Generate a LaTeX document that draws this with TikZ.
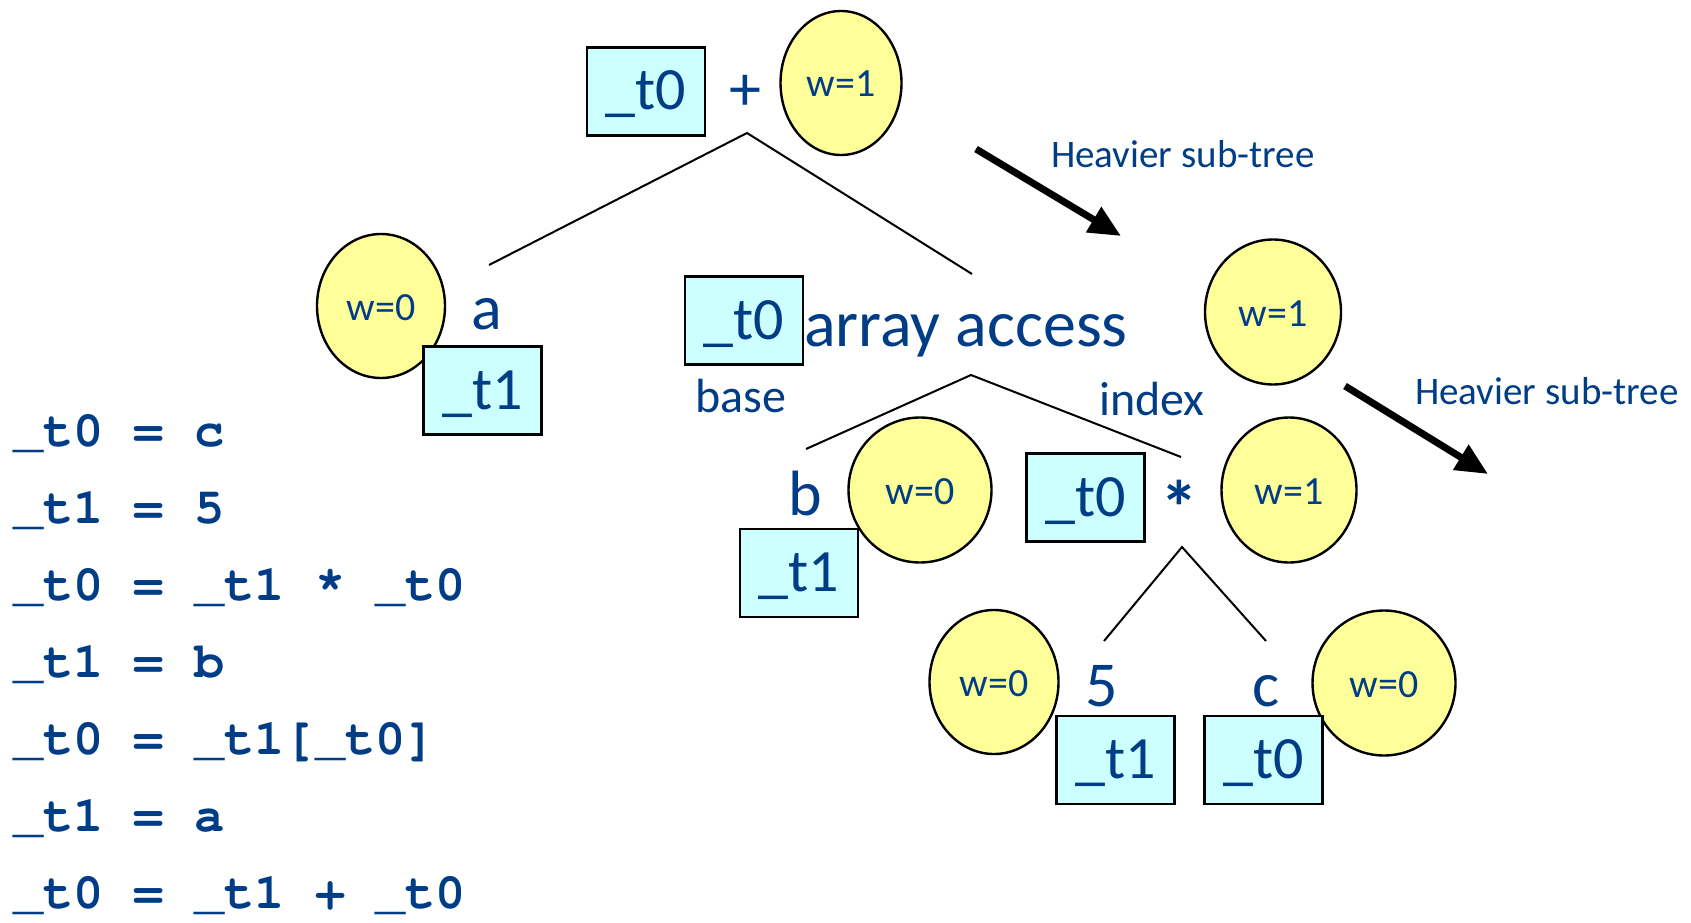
\documentclass[tikz,border=0pt]{standalone}
\usepackage{fontspec}
\setmainfont{Carlito}
\setmonofont{texgyrecursor-regular.otf}[BoldFont=texgyrecursor-bold.otf]
\usetikzlibrary{arrows.meta,shapes.geometric}
\definecolor{txt}{RGB}{0,61,134}
\definecolor{boxfill}{RGB}{204,255,255}
\definecolor{ellfill}{RGB}{255,255,153}
\begin{document}
\begin{tikzpicture}[x=1pt,y=-1pt,
  tmp/.style={draw=black, line width=2.4pt, fill=boxfill, minimum width=118pt, minimum height=88pt, inner sep=0pt, text=txt, font=\fontsize{60}{60}\selectfont, text height=45pt, text depth=8pt},
  wt/.style={ellipse, draw=black, line width=2.4pt, fill=ellfill, inner sep=0pt, text=txt, font=\fontsize{40}{40}\selectfont, text height=28pt, text depth=0pt},
  lbl/.style={text=txt, inner sep=0pt, anchor=base, font=\fontsize{64}{64}\selectfont},
  sub/.style={text=txt, inner sep=0pt, anchor=base, font=\fontsize{48}{48}\selectfont},
  note/.style={text=txt, inner sep=0pt, anchor=base west, font=\fontsize{39}{39}\selectfont},
  code/.style={text=txt, inner sep=0pt, anchor=base west, font=\fontsize{50.3}{50.3}\selectfont\ttfamily\bfseries},
  edge/.style={draw=black, line width=2pt},
  heavy/.style={draw=black, line width=7pt, -{Triangle[length=32pt,width=28pt]}}
]
\useasboundingbox (0,0) rectangle (1691,923);

% ---- code listing
\node[code] (c1) at (13,446) {\_t0 = c};
\node[code] (c2) at (13,523) {\_t1 = 5};
\node[code] (c3) at (13,600) {\_t0 = \_t1 * \_t0};
\node[code] (c4) at (13,677) {\_t1 = b};
\node[code] (c5) at (13,754) {\_t0 = \_t1[\_t0]};
\node[code] (c6) at (13,831) {\_t1 = a};
\node[code] (c7) at (13,908) {\_t0 = \_t1 + \_t0};

% ---- root +
\node[tmp] (tplus) at (646,91.5) {\_t0};
\node[lbl] (plus) at (745,111) {+};
\node[wt, minimum width=121pt, minimum height=144pt] (wplus) at (841,83) {w=1};

% ---- leaf a
\node[wt, minimum width=128pt, minimum height=144pt] (wa) at (381,306) {w=0};
\node[tmp] (ta) at (482.5,390.5) {\_t1};
\node[lbl] (a) at (487,329) {a};

% ---- array access
\node[tmp] (tarr) at (744,320.5) {\_t0};
\node[text=txt, inner sep=0pt, anchor=base west, font=\fontsize{66}{66}\selectfont] (arr) at (804,346) {array access};
\node[wt, minimum width=136pt, minimum height=145pt] (warr) at (1273,312) {w=1};
\node[sub] (base) at (741,412) {base};
\node[sub] (index) at (1152,415) {index};

% ---- leaf b
\node[tmp] (tb) at (799,573) {\_t1};
\node[wt, minimum width=143pt, minimum height=145pt] (wb) at (920,490) {w=0};
\node[lbl] (b) at (805,515) {b};

% ---- *
\node[tmp] (tmul) at (1085.5,497.5) {\_t0};
\node[lbl, font=\fontsize{76}{76}\selectfont\bfseries] (mul) at (1179,534) {*};
\node[wt, minimum width=135pt, minimum height=145pt] (wmul) at (1289,490) {w=1};

% ---- leaf 5
\node[wt, minimum width=129pt, minimum height=144pt] (w5) at (994,682) {w=0};
\node[tmp] (t5) at (1115.5,760) {\_t1};
\node[lbl] (five) at (1102,706) {5};

% ---- leaf c
\node[wt, minimum width=143pt, minimum height=145pt] (wc) at (1384,683) {w=0};
\node[tmp] (tc) at (1263.5,760) {\_t0};
\node[lbl] (cc) at (1266,706) {c};

% ---- tree edges
\coordinate (plusB) at (747,133);
\coordinate (aT) at (489,265);
\coordinate (arrT) at (972,274);
\coordinate (arrB) at (971,375);
\coordinate (bT) at (806,449);
\coordinate (mulT) at (1181,457);
\coordinate (mulB) at (1182,547);
\coordinate (fiveT) at (1104,641);
\coordinate (cT) at (1266,641);
\draw[edge] (aT) -- (plusB) -- (arrT);
\draw[edge] (bT) -- (arrB) -- (mulT);
\draw[edge] (fiveT) -- (mulB) -- (cT);

% ---- heavier sub-tree arrows
\coordinate (h1s) at (976,149);
\coordinate (h1e) at (1121,236);
\coordinate (h2s) at (1345,386);
\coordinate (h2e) at (1488,474);
\draw[heavy] (h1s) -- (h1e);
\draw[heavy] (h2s) -- (h2e);
\node[note] (n1) at (1051,167) {Heavier sub-tree};
\node[note] (n2) at (1415,404) {Heavier sub-tree};
\end{tikzpicture}
\end{document}
